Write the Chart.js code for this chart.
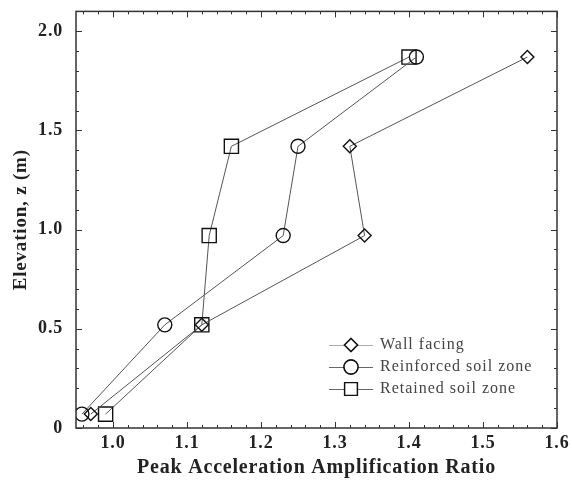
<!DOCTYPE html>
<html>
<head>
<meta charset="utf-8">
<script src="https://cdn.jsdelivr.net/npm/chart.js@4/dist/chart.umd.min.js"></script>
<style>
  html, body { margin: 0; padding: 0; background: #fff; }
  #wrap { width: 572px; height: 487px; }
</style>
</head>
<body>
<div id="wrap"><canvas id="chart"></canvas></div>
<script>
// elevation z (m) of the accelerometers
const elevation = [1.87, 1.42, 0.97, 0.52, 0.07];
// peak acceleration amplification ratio per zone
const wallFacing = [1.56, 1.32, 1.34, 1.12, 0.97];
const reinforcedZone = [1.41, 1.25, 1.23, 1.07, 0.958];
const retainedZone = [1.40, 1.16, 1.13, 1.12, 0.99];
const seriesNames = ['Wall facing', 'Reinforced soil zone', 'Retained soil zone'];

const xTicks = [1.0, 1.1, 1.2, 1.3, 1.4, 1.5, 1.6];
const yTicks = [0, 0.5, 1.0, 1.5, 2.0];
const xMinorStep = 0.02;
const yMinorStep = 0.1;

const serif = "'Liberation Serif', 'DejaVu Serif', serif";

function toPoints(xs) {
    return xs.map((x, i) => ({ x: x, y: elevation[i] }));
}

const styles = [
    { pointStyle: 'rectRot', radius: 6.5 },
    { pointStyle: 'circle', radius: 7 },
    { pointStyle: 'rect', radius: 10 }
];

const datasets = [wallFacing, reinforcedZone, retainedZone].map((vals, i) => ({
    label: seriesNames[i],
    data: toPoints(vals),
    showLine: true,
    borderColor: '#555',
    borderWidth: 1,
    pointStyle: styles[i].pointStyle,
    pointRadius: styles[i].radius,
    pointBorderColor: '#111',
    pointBorderWidth: 1.4,
    pointBackgroundColor: 'rgba(255,255,255,0)'
}));

// wider letter spacing like the scanned figure
const spacing = {
    id: 'spacing',
    beforeDraw(chart) { chart.ctx.letterSpacing = '0.8px'; }
};

// frame, inward ticks and legend inside the plot
const decorations = {
    id: 'decorations',
    afterDraw(chart) {
        const ctx = chart.ctx;
        const a = chart.chartArea;
        const xs = chart.scales.x, ys = chart.scales.y;
        ctx.save();
        ctx.strokeStyle = '#333';
        ctx.lineWidth = 1.5;
        ctx.strokeRect(a.left, a.top, a.right - a.left, a.bottom - a.top);

        ctx.lineWidth = 1;
        ctx.beginPath();
        for (let v = 0.96; v <= xs.max + 1e-9; v += xMinorStep) {
            const major = xTicks.some(t => Math.abs(t - v) < 1e-6);
            const len = major ? 6 : 3;
            const px = Math.round(xs.getPixelForValue(v)) + 0.5;
            ctx.moveTo(px, a.bottom); ctx.lineTo(px, a.bottom - len);
            ctx.moveTo(px, a.top); ctx.lineTo(px, a.top + len);
        }
        for (let v = 0; v <= ys.max + 1e-9; v += yMinorStep) {
            const major = yTicks.some(t => Math.abs(t - v) < 1e-6);
            const len = major ? 6 : 3;
            const py = Math.round(ys.getPixelForValue(v)) + 0.5;
            ctx.moveTo(a.left, py); ctx.lineTo(a.left + len, py);
            ctx.moveTo(a.right, py); ctx.lineTo(a.right - len, py);
        }
        ctx.stroke();

        // legend
        const lx0 = 329, lx1 = 373, tx = 380;
        const rowY = [345, 367, 389];
        ctx.font = '16px ' + serif;
        ctx.letterSpacing = '1px';
        ctx.textBaseline = 'middle';
        ctx.textAlign = 'left';
        chart.data.datasets.forEach((ds, i) => {
            const y = rowY[i];
            ctx.strokeStyle = i === 0 ? '#aaa' : '#666';
            ctx.lineWidth = 1;
            ctx.beginPath();
            ctx.moveTo(lx0, y + 0.5); ctx.lineTo(lx1, y + 0.5);
            ctx.stroke();
            ctx.fillStyle = '#fff';
            ctx.strokeStyle = '#111';
            ctx.lineWidth = 1.4;
            Chart.helpers.drawPoint(ctx, {
                pointStyle: ds.pointStyle,
                radius: i === 2 ? 9 : ds.pointRadius,
                borderWidth: 1.4
            }, (lx0 + lx1) / 2, y);
            ctx.fill();
            ctx.stroke();
            ctx.fillStyle = '#444';
            ctx.fillText(ds.label, tx, y);
        });
        ctx.restore();
    }
};

new Chart(document.getElementById('chart'), {
    type: 'scatter',
    data: { datasets: datasets },
    options: {
        responsive: true,
        maintainAspectRatio: false,
        animation: false,
        layout: { padding: { top: 11, right: 15, left: 0, bottom: 0 } },
        plugins: {
            legend: { display: false },
            tooltip: { enabled: false }
        },
        scales: {
            x: {
                type: 'linear',
                min: 0.95,
                max: 1.6,
                afterBuildTicks: s => { s.ticks = xTicks.map(v => ({ value: v })); },
                afterFit: s => { s.height = 59; s.paddingLeft = 0; s.paddingRight = 0; },
                grid: { display: false, drawTicks: false },
                border: { display: false },
                ticks: {
                    padding: 5,
                    color: '#222',
                    font: { family: serif, size: 18, weight: 'bold' },
                    callback: v => v.toFixed(1)
                },
                title: {
                    display: true,
                    text: 'Peak Acceleration Amplification Ratio',
                    color: '#222',
                    font: { family: serif, size: 20, weight: 'bold' },
                    padding: { top: 0, bottom: 7 }
                }
            },
            y: {
                type: 'linear',
                min: 0,
                max: 2.1,
                afterBuildTicks: s => { s.ticks = yTicks.map(v => ({ value: v })); },
                afterFit: s => { s.width = 76; s.paddingTop = 0; s.paddingBottom = 0; },
                grid: { display: false, drawTicks: false },
                border: { display: false },
                ticks: {
                    padding: 13,
                    color: '#222',
                    font: { family: serif, size: 18, weight: 'bold' },
                    callback: v => v === 0 ? '0' : v.toFixed(1)
                },
                title: {
                    display: true,
                    text: 'Elevation, z (m)',
                    color: '#222',
                    font: { family: serif, size: 19, weight: 'bold' },
                    padding: { top: 10, bottom: 0 }
                }
            }
        }
    },
    plugins: [spacing, decorations]
});
</script>
</body>
</html>
